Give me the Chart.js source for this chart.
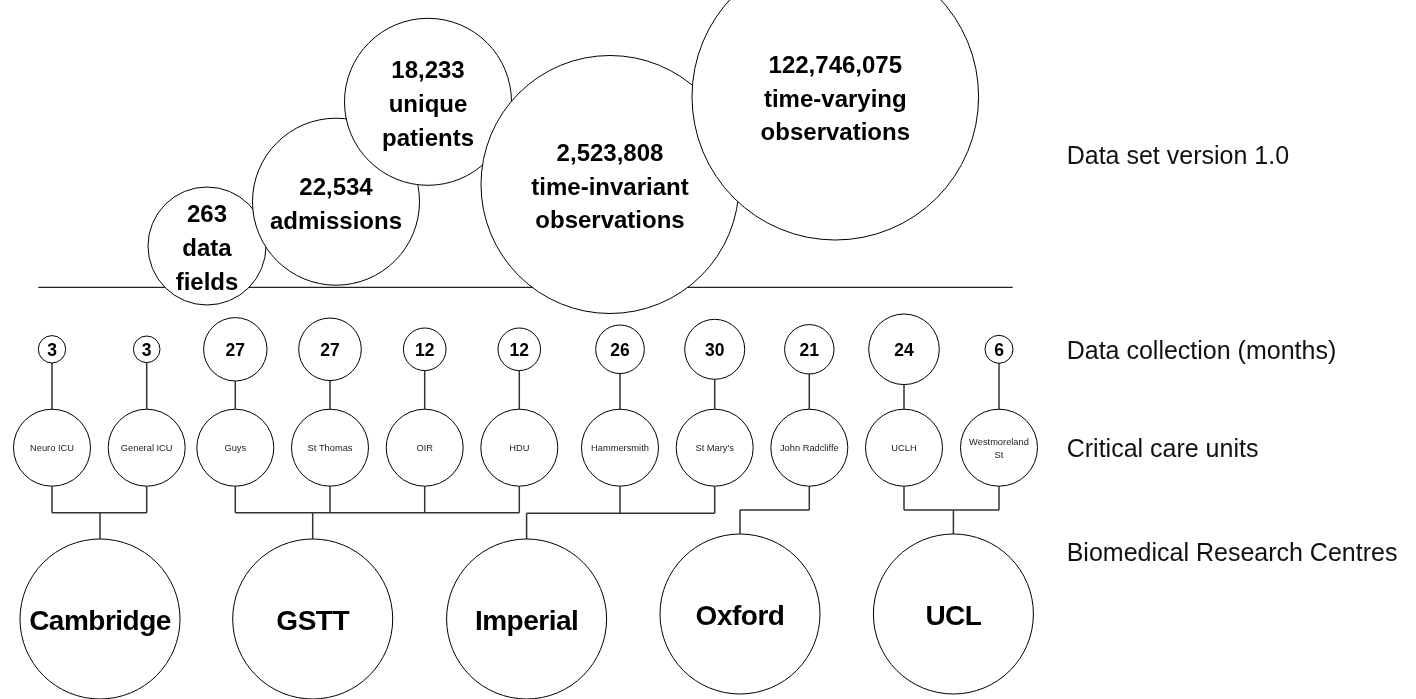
<!DOCTYPE html>
<html>
<head>
<meta charset="utf-8">
<script src="https://cdn.jsdelivr.net/npm/chart.js@4.4.1/dist/chart.umd.min.js"></script>
<style>
  html, body { margin: 0; padding: 0; background: #ffffff; }
  #wrap { width: 1416px; height: 699px; position: relative; }
</style>
</head>
<body>
<div id="wrap"><canvas id="c"></canvas></div>
<script>
// ================= DATA =================
const statValues   = ['263', '22,534', '18,233', '2,523,808', '122,746,075'];
const statCaptions = [['data', 'fields'], ['admissions'], ['unique', 'patients'],
                      ['time-invariant', 'observations'], ['time-varying', 'observations']];

const unitNames  = ['Neuro ICU', 'General ICU', 'Guys', 'St Thomas', 'OIR', 'HDU',
                    'Hammersmith', "St Mary's", 'John Radcliffe', 'UCLH', 'Westmoreland St'];
const unitMonths = [3, 3, 27, 27, 12, 12, 26, 30, 21, 24, 6];
const unitCentre = [0, 0, 1, 1, 1, 1, 2, 2, 3, 4, 4];

const centreNames = ['Cambridge', 'GSTT', 'Imperial', 'Oxford', 'UCL'];

const rowLabels = ['Data set version 1.0', 'Data collection (months)',
                   'Critical care units', 'Biomedical Research Centres'];

// ================= LAYOUT (diagram geometry, in scale units) =================
const statX = [207, 336, 428, 610, 835.3];
const statY = [246, 201.7, 101.8, 184.5, 96.7];
const statR = [59, 83.5, 83.5, 129, 143.3];

const unitX  = [52, 146.7, 235.3, 330, 424.7, 519.3, 620, 714.7, 809.3, 904, 999];
const monthR = [13.7, 13.3, 31.7, 31.3, 21.3, 21.3, 24.3, 30, 24.7, 35.3, 14];
const monthY = 349.3;
const unitY  = 447.7;
const unitR  = 38.5;

const centreX = [100, 312.7, 526.6, 740, 953.4];
const centreY = [619, 619, 619, 614, 614];
const centreR = 80;
const barY    = [512.7, 512.7, 513.3, 510, 510];

const dividerY = 287.3, dividerX0 = 38.3, dividerX1 = 1012.7;
const rowLabelX = 1066.7;
const rowLabelY = [155, 350, 448.3, 551.7];

// ================= BUILD =================
const conn = [];
const gap = () => conn.push({ x: 0, y: null });
unitX.forEach((ux, i) => {
  conn.push({ x: ux, y: monthY + monthR[i] }, { x: ux, y: unitY - unitR }); gap();
  conn.push({ x: ux, y: unitY + unitR }, { x: ux, y: barY[unitCentre[i]] }); gap();
});
centreNames.forEach((c, j) => {
  const xs = unitX.filter((_, i) => unitCentre[i] === j).concat([centreX[j]]);
  conn.push({ x: Math.min(...xs), y: barY[j] }, { x: Math.max(...xs), y: barY[j] }); gap();
  conn.push({ x: centreX[j], y: barY[j] }, { x: centreX[j], y: centreY[j] - centreR }); gap();
});

const FONT = '"Liberation Sans", Arial, Helvetica, sans-serif';

const labelPlugin = {
  id: 'diagramLabels',
  afterDatasetsDraw(chart) {
    const { ctx } = chart;
    const sx = chart.scales.x, sy = chart.scales.y;
    const px = v => sx.getPixelForValue(v);
    const py = v => sy.getPixelForValue(v);
    ctx.save();
    ctx.textAlign = 'center';
    ctx.textBaseline = 'alphabetic';
    ctx.fillStyle = '#000';

    // stat bubbles
    ctx.font = 'bold 24px ' + FONT;
    statValues.forEach((v, i) => {
      const lines = [v].concat(statCaptions[i]);
      const cx = px(statX[i]), cy = py(statY[i]) + 1.5;
      lines.forEach((t, k) => {
        const ly = cy + (k - (lines.length - 1) / 2) * 33.7;
        ctx.fillText(t, cx, ly + 0.358 * 24);
      });
    });

    // months
    ctx.font = 'bold 17.5px ' + FONT;
    unitMonths.forEach((m, i) => {
      ctx.fillText(String(m), px(unitX[i]), py(monthY) + 0.7 + 0.358 * 17.5);
    });

    // units
    ctx.font = '9.3px ' + FONT;
    ctx.fillStyle = '#222';
    unitNames.forEach((n, i) => {
      const cx = px(unitX[i]), cy = py(unitY);
      const w = ctx.measureText(n).width;
      if (w > 2 * unitR - 8 && n.indexOf(' ') > 0) {
        const idx = n.lastIndexOf(' ');
        const l1 = n.slice(0, idx), l2 = n.slice(idx + 1);
        ctx.fillText(l1, cx, cy - 6 + 0.358 * 9.3);
        ctx.fillText(l2, cx, cy + 6.6 + 0.358 * 9.3);
      } else {
        ctx.fillText(n, cx, cy + 0.358 * 9.3);
      }
    });

    // centres
    ctx.fillStyle = '#000';
    ctx.font = 'bold 28px ' + FONT;
    try { ctx.letterSpacing = '-0.5px'; } catch (e) {}
    centreNames.forEach((n, j) => {
      ctx.fillText(n, px(centreX[j]), py(centreY[j]) + 1 + 0.358 * 28);
    });
    try { ctx.letterSpacing = '0px'; } catch (e) {}

    // row labels
    ctx.textAlign = 'left';
    ctx.font = '25px ' + FONT;
    ctx.fillStyle = '#111';
    rowLabels.forEach((t, k) => {
      ctx.fillText(t, px(rowLabelX), py(rowLabelY[k]) + 0.358 * 25);
    });
    ctx.restore();
  }
};

const bubbleStyle = {
  backgroundColor: '#ffffff',
  borderColor: '#000000',
  borderWidth: 1,
  hoverRadius: 0,
  hoverBorderWidth: 1,
  clip: false
};

new Chart(document.getElementById('c'), {
  type: 'bubble',
  data: {
    datasets: [
      Object.assign({ label: 'stats', order: 0,
        data: statX.map((x, i) => ({ x: x, y: statY[i], r: statR[i] })) }, bubbleStyle),
      Object.assign({ label: 'months', order: 1,
        data: unitX.map((x, i) => ({ x: x, y: monthY, r: monthR[i] })) }, bubbleStyle),
      Object.assign({ label: 'units', order: 1,
        data: unitX.map((x) => ({ x: x, y: unitY, r: unitR })) }, bubbleStyle),
      Object.assign({ label: 'centres', order: 1,
        data: centreX.map((x, j) => ({ x: x, y: centreY[j], r: centreR })) }, bubbleStyle),
      { type: 'line', label: 'connectors', order: 5, data: conn,
        borderColor: '#333333', borderWidth: 1.5, pointRadius: 0, pointHoverRadius: 0,
        fill: false, spanGaps: false, tension: 0, clip: false },
      { type: 'line', label: 'divider', order: 6,
        data: [{ x: dividerX0, y: dividerY }, { x: dividerX1, y: dividerY }],
        borderColor: '#222222', borderWidth: 1.2, pointRadius: 0, pointHoverRadius: 0,
        fill: false, tension: 0 }
    ]
  },
  options: {
    responsive: true,
    maintainAspectRatio: false,
    animation: false,
    events: [],
    layout: { autoPadding: false, padding: 0 },
    plugins: { legend: { display: false }, tooltip: { enabled: false } },
    scales: {
      x: { type: 'linear', min: 0, max: 1416, display: false },
      y: { type: 'linear', min: 0, max: 699, reverse: true, display: false }
    }
  },
  plugins: [labelPlugin]
});
</script>
</body>
</html>
